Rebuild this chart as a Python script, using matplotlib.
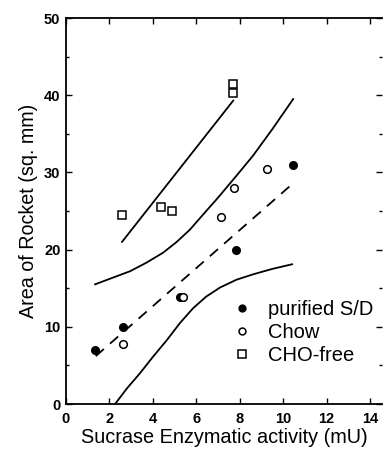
import numpy as np
import matplotlib
matplotlib.use("Agg")
import matplotlib.pyplot as plt
from matplotlib.ticker import MultipleLocator

plt.rcParams['font.family'] = ['Liberation Sans', 'DejaVu Sans']

# data
purified_x = [1.34, 2.63, 5.25, 7.83, 10.46]
purified_y = [7.0, 10.0, 13.8, 20.0, 31.0]

chow_x = [2.63, 5.40, 7.14, 7.74, 9.26]
chow_y = [7.8, 13.8, 24.2, 28.0, 30.5]

chofree_x = [2.58, 4.38, 4.88, 7.70, 7.70]
chofree_y = [24.5, 25.5, 25.0, 41.4, 40.3]

# regression line for CHO-free group
chofree_fit_x = [2.58, 7.70]
chofree_fit_y = [21.0, 39.3]

# pooled regression (dashed)
fit_x = [1.37, 10.3]
fit_y = [6.2, 28.2]

# confidence band curves
upper_x = [1.34, 2.0, 2.95, 3.7, 4.47, 5.1, 5.71, 6.3, 6.96, 7.8, 8.62, 9.5, 10.46]
upper_y = [15.5, 16.2, 17.2, 18.3, 19.6, 21.0, 22.6, 24.5, 26.6, 29.4, 32.2, 35.6, 39.5]
lower_x = [2.26, 2.8, 3.41, 4.0, 4.65, 5.25, 5.85, 6.45, 7.1, 7.85, 8.62, 9.5, 10.41]
lower_y = [0.0, 2.0, 4.0, 6.1, 8.3, 10.5, 12.4, 13.9, 15.1, 16.1, 16.8, 17.5, 18.1]

fig = plt.figure(figsize=(3.9, 4.49), dpi=100)
ax = fig.add_axes([66/390, 45/449, 316/390, 386/449])

ax.plot(upper_x, upper_y, color='k', lw=1.3)
ax.plot(lower_x, lower_y, color='k', lw=1.3)
ax.plot(chofree_fit_x, chofree_fit_y, color='k', lw=1.3)
ax.plot(fit_x, fit_y, color='k', lw=1.3, dashes=(6, 4.5))

ax.plot(purified_x, purified_y, 'o', color='k', ms=5.5, label='purified S/D')
ax.plot(chow_x, chow_y, 'o', mfc='white', mec='k', mew=1.1, ms=5.5, label='Chow')
ax.plot(chofree_x, chofree_y, 's', mfc='white', mec='k', mew=1.1, ms=6, label='CHO-free')

ax.set_xlim(0, 14.55)
ax.set_ylim(0, 50)
ax.xaxis.set_major_locator(MultipleLocator(2))
ax.yaxis.set_major_locator(MultipleLocator(10))
ax.yaxis.set_minor_locator(MultipleLocator(5))
ax.tick_params(which='both', direction='in', top=True, right=True, width=1.0)
ax.tick_params(which='major', length=4, labelsize=10.5)
ax.tick_params(axis='x', which='major', pad=6)
ax.tick_params(axis='y', which='major', pad=4)
ax.tick_params(which='minor', length=2.5)
for lab in ax.get_xticklabels() + ax.get_yticklabels():
    lab.set_fontweight('bold')
for side in ['left', 'bottom', 'top']:
    ax.spines[side].set_linewidth(1.3)
ax.spines['right'].set_visible(False)

ax.set_xlabel('Sucrase Enzymatic activity (mU)', fontsize=14.3, labelpad=1.5)
ax.set_ylabel('Area of Rocket (sq. mm)', fontsize=14.2, labelpad=4)

leg = ax.legend(loc='upper left', bbox_to_anchor=(0.48, 0.305), frameon=False,
                fontsize=14.5, handlelength=1.0, handletextpad=0.8,
                labelspacing=0.2, borderpad=0.2, markerscale=0.9)

fig.savefig('out.png', dpi=100)
